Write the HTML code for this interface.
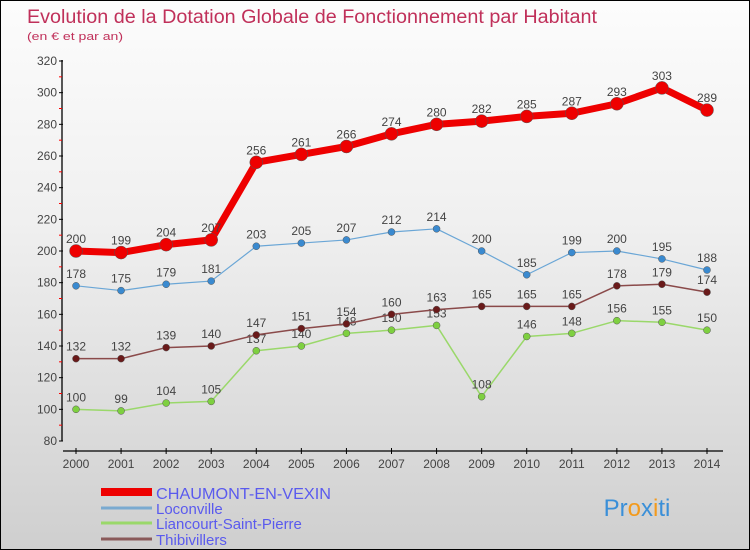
<!DOCTYPE html>
<html><head><meta charset="utf-8"><style>
body{margin:0}
#c{width:748px;height:548px;border:1px solid #000;background:linear-gradient(#fcfcfc,#f0f0f0 40%,#cfcfcf);position:relative;font-family:"Liberation Sans",sans-serif;overflow:hidden}
text{font-family:"Liberation Sans",sans-serif}
</style></head><body>
<div id="c">
<svg id="s" width="748" height="548">
<text x="26" y="22" font-size="19" fill="#c0305a" textLength="570" lengthAdjust="spacingAndGlyphs">Evolution de la Dotation Globale de Fonctionnement par Habitant</text>
<text x="26" y="39" font-size="11" fill="#c0305a" textLength="96" lengthAdjust="spacingAndGlyphs">(en € et par an)</text>
<text x="636" y="515" font-size="24" text-anchor="middle" fill="#3a8fd8">Pr<tspan fill="#f39a1c">o</tspan><tspan fill="#3a8fd8">x</tspan><tspan fill="#f39a1c">i</tspan>ti</text>
</svg>
</div>
<script>
const years=[2000,2001,2002,2003,2004,2005,2006,2007,2008,2009,2010,2011,2012,2013,2014];
const chaumont=[200,199,204,207,256,261,266,274,280,282,285,287,293,303,289];
const loconville=[178,175,179,181,203,205,207,212,214,200,185,199,200,195,188];
const liancourt=[100,99,104,105,137,140,148,150,153,108,146,148,156,155,150];
const thibivillers=[132,132,139,140,147,151,154,160,163,165,165,165,178,179,174];
const yTicks=[80,100,120,140,160,180,200,220,240,260,280,300,320];
const seriesNames=["CHAUMONT-EN-VEXIN","Loconville","Liancourt-Saint-Pierre","Thibivillers"];
const NS="http://www.w3.org/2000/svg";
const s=document.getElementById('s');
const X=i=>75+i*(706-75)/(years.length-1);
const Y=v=>440-(v-80)/(320-80)*380;
function el(t,a,p){const e=document.createElementNS(NS,t);for(const k in a)e.setAttribute(k,a[k]);(p||s).appendChild(e);return e;}
let ax=el('line',{x1:61,y1:59,x2:61,y2:440,stroke:'#000','stroke-width':1.3});


yTicks.forEach((v,i)=>{
 let l=el('line',{x1:58,x2:62,y1:Y(v),y2:Y(v),stroke:'#000'});
 
 
 if(i<yTicks.length-1){let m=el('line',{x1:58,x2:61,y1:Y(v+10),y2:Y(v+10),stroke:'#f00'});
 
 }
 let t=el('text',{x:56,y:Y(v)+4,'font-size':12,'text-anchor':'end',fill:'#444'});t.textContent=v;
 
 
});
let xa=el('line',{x1:62,y1:450,x2:722,y2:450,stroke:'#000','stroke-width':1.3});


years.forEach((y,i)=>{
 let l=el('line',{x1:X(i),x2:X(i),y1:447,y2:453,stroke:'#000'});
 
 
 let t=el('text',{x:X(i),y:467,'font-size':12,'text-anchor':'middle',fill:'#444'});t.textContent=y;
 
 
});
function series(data,color,dot,w,r,name){
 const g=el('g',{});
 
 
 const pts=data.map((v,i)=>X(i)+','+Y(v)).join(' ');
 el('polyline',{points:pts,fill:'none',stroke:color,'stroke-width':w,'stroke-linejoin':'round'},g);
 data.forEach((v,i)=>{
  let c=el('circle',{cx:X(i),cy:Y(v),r:r,fill:dot,stroke:'#555','stroke-width':0.5},g);
  
  
  let t=el('text',{x:X(i),y:Y(v)-8,'font-size':12,'text-anchor':'middle',fill:'#444'},g);t.textContent=v;
  
  
 });
}
series(liancourt,'#9ad86a','#7ed040',1.5,3.5,'liancourt');
series(thibivillers,'#8a4a4a','#6a1a1a',1.5,3.5,'thibivillers');
series(loconville,'#6aa6d6','#3a8ad0',1.2,3.5,'loconville');
series(chaumont,'#ee0000','#ee0000',7,6.5,'chaumont');
const leg=[['#ee0000',8],['#7aaad0',3],['#9ad86a',3],['#8a5a5a',3]];
seriesNames.forEach((n,i)=>{
 const y=[493,509,524,540][i];
 let l=el('line',{x1:100,x2:151,y1:y-2,y2:y-2,stroke:leg[i][0],'stroke-width':leg[i][1]});
 
 
 const a={x:155,y:y+(i==0?5:4),'font-size':i==0?16:15,fill:'#5a5aee'};
 if(i==0){a.textLength=175;a.lengthAdjust='spacingAndGlyphs';}
 let t=el('text',a);t.textContent=n;
 
 
});
</script>
</body></html>
